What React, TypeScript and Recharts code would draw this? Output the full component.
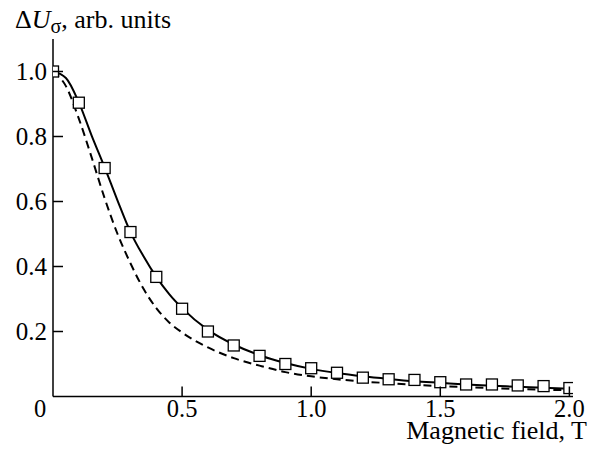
import React from "react";
import { LineChart, Line, XAxis, YAxis } from "recharts";

// magnetic field, T
const fieldT = [
  0, 0.05, 0.1, 0.15, 0.2, 0.25, 0.3, 0.35, 0.4, 0.45, 0.5, 0.6, 0.7, 0.8, 0.9,
  1.0, 1.1, 1.2, 1.3, 1.4, 1.5, 1.6, 1.7, 1.8, 1.9, 2.0,
];
// squares (experiment)
const measured = [
  1.0, null, 0.904, null, 0.703, null, 0.506, null, 0.368, null, 0.27, 0.2,
  0.157, 0.125, 0.1, 0.087, 0.073, 0.058, 0.053, 0.051, 0.044, 0.037, 0.037,
  0.034, 0.032, 0.026,
];
// solid curve
const fitCurve = [
  1.0, 0.98, 0.905, 0.802, 0.705, 0.603, 0.506, 0.432, 0.368, 0.315, 0.272,
  0.205, 0.16, 0.127, 0.103, 0.085, 0.072, 0.062, 0.054, 0.047, 0.042, 0.037,
  0.033, 0.03, 0.027, 0.024,
];
// dashed curve
const calcCurve = [
  1.0, 0.955, 0.855, 0.735, 0.61, 0.5, 0.41, 0.332, 0.272, 0.228, 0.197, 0.151,
  0.118, 0.095, 0.075, 0.062, 0.053, 0.046, 0.041, 0.036, 0.032, 0.029, 0.026,
  0.023, 0.021, 0.019,
];
const xTicks = [0, 0.5, 1.0, 1.5, 2.0];
const yTicks = [0.2, 0.4, 0.6, 0.8, 1.0];

const data = fieldT.map((f, i) => ({
  field: f,
  measured: measured[i],
  fit: fitCurve[i],
  calc: calcCurve[i],
}));

const FONT = '"Liberation Serif", "DejaVu Serif", serif';

const XTick = (props: any) => {
  const { x, y, payload } = props;
  const v = payload.value;
  return (
    <g>
      {v !== 0 && (
        <line x1={x} y1={y} x2={x} y2={y - 10} stroke="#000" strokeWidth={1.5} />
      )}
      <text
        x={v === 0 ? x - 13 : x}
        y={y + 20}
        textAnchor="middle"
        style={{ fontFamily: FONT, fontSize: 24.5 }}
        fill="#000"
      >
        {v === 0 ? "0" : v.toFixed(1)}
      </text>
    </g>
  );
};

const YTick = (props: any) => {
  const { x, y, payload } = props;
  return (
    <g>
      <line x1={x} y1={y} x2={x + 10} y2={y} stroke="#000" strokeWidth={1.5} />
      <text
        x={x - 6}
        y={y}
        dy="0.35em"
        textAnchor="end"
        style={{ fontFamily: FONT, fontSize: 25 }}
        fill="#000"
      >
        {payload.value.toFixed(1)}
      </text>
    </g>
  );
};

const Square = (props: any) => {
  const { cx, cy, payload } = props;
  if (payload.measured == null || cx == null || cy == null) return <g key={props.key} />;
  return (
    <rect
      key={props.key}
      x={cx - 5.5}
      y={cy - 5.5}
      width={11}
      height={11}
      fill="#fff"
      stroke="#000"
      strokeWidth={1.3}
    />
  );
};

export default function App() {
  return (
    <div style={{ position: "absolute", left: 0, top: 0, width: 597, height: 456, background: "#fff", fontFamily: FONT }}>
      <LineChart
        width={597}
        height={456}
        data={data}
        margin={{ top: 39, right: 24, left: 0, bottom: 0 }}
      >
        <XAxis
          dataKey="field"
          type="number"
          domain={[0, 2.014]}
          ticks={xTicks}
          allowDataOverflow
          height={59.5}
          tickSize={0}
          tickMargin={0}
          tick={<XTick />}
          axisLine={{ stroke: "#000", strokeWidth: 1.5 }}
          tickLine={false}
        />
        <YAxis
          type="number"
          domain={[0, 1.1]}
          ticks={yTicks}
          allowDataOverflow
          width={53}
          tickSize={0}
          tickMargin={0}
          tick={<YTick />}
          axisLine={{ stroke: "#000", strokeWidth: 1.5 }}
          tickLine={false}
        />
        <Line
          dataKey="calc"
          type="monotone"
          stroke="#000"
          strokeWidth={2}
          strokeDasharray="8 5"
          dot={false}
          isAnimationActive={false}
        />
        <Line
          dataKey="fit"
          type="monotone"
          stroke="#000"
          strokeWidth={2}
          dot={false}
          isAnimationActive={false}
        />
        <Line
          dataKey="measured"
          stroke="none"
          connectNulls
          dot={Square}
          activeDot={false}
          isAnimationActive={false}
        />
      </LineChart>
      <svg
        width={597}
        height={456}
        style={{ position: "absolute", left: 0, top: 0, pointerEvents: "none" }}
      >
        <text x={15} y={28} style={{ fontFamily: FONT, fontSize: 26 }} fill="#000">
          Δ<tspan fontStyle="italic">U</tspan>
          <tspan style={{ fontSize: 20 }} dy={5}>σ</tspan>
          <tspan dy={-5}>, arb. units</tspan>
        </text>
        <text
          x={587}
          y={439}
          textAnchor="end"
          style={{ fontFamily: FONT, fontSize: 26 }}
          fill="#000"
        >
          Magnetic field, T
        </text>
      </svg>
    </div>
  );
}
